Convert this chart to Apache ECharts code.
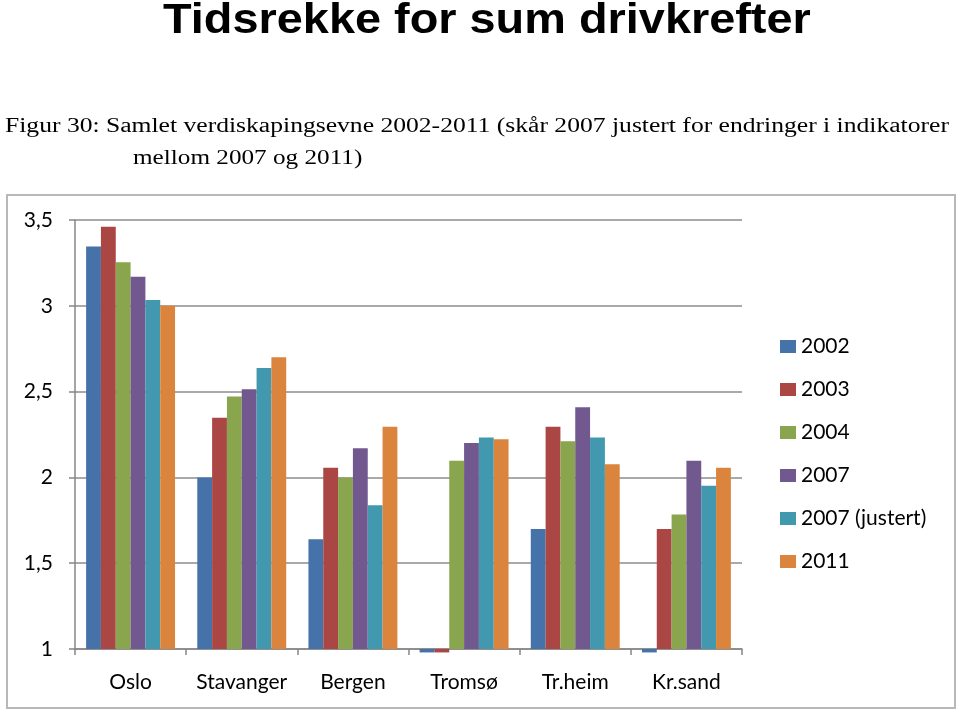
<!DOCTYPE html>
<html>
<head>
<meta charset="utf-8">
<script src="https://cdn.jsdelivr.net/npm/echarts@6/dist/echarts.min.js"></script>
<style>html,body{margin:0;padding:0;background:#fff;}#c{width:960px;height:714px;}</style>
</head>
<body>
<div id="c"></div>
<script>
const categories = ['Oslo', 'Stavanger', 'Bergen', 'Tromsø', 'Tr.heim', 'Kr.sand'];
const seriesNames = ['2002', '2003', '2004', '2007', '2007 (justert)', '2011'];
const v2002 = [3.345, 2.0, 1.64, 0.98, 1.70, 0.98];
const v2003 = [3.46, 2.347, 2.056, 0.98, 2.295, 1.70];
const v2004 = [3.254, 2.471, 2.0, 2.097, 2.211, 1.784];
const v2007 = [3.17, 2.514, 2.17, 2.201, 2.409, 2.097];
const v2007j = [3.034, 2.638, 1.837, 2.233, 2.233, 1.951];
const v2011 = [3.0, 2.70, 2.295, 2.223, 2.077, 2.056];
const yTicks = [1, 1.5, 2, 2.5, 3, 3.5];
const titleText = 'Tidsrekke for sum drivkrefter';
const subLine1 = 'Figur 30: Samlet verdiskapingsevne 2002-2011 (skår 2007 justert for endringer i indikatorer';
const subLine2 = 'mellom 2007 og 2011)';

const colors = ['#4572A8', '#AA4643', '#89A54E', '#71588F', '#4198AF', '#DB843D'];
const allValues = [v2002, v2003, v2004, v2007, v2007j, v2011];

const chart = echarts.init(document.getElementById('c'), null, {renderer: 'canvas'});
const font = 'Lato, "Open Sans", sans-serif';
chart.setOption({
  animation: false,
  color: colors,
  graphic: [
    {type: 'rect', shape: {x: 7, y: 195, width: 948, height: 513}, style: {fill: 'none', stroke: '#b8b8b8', lineWidth: 2}, silent: true, z: -1},
    {type: 'text', x: 163, y: 21, scaleX: 1.09, style: {text: titleText, font: 'bold 43px "Liberation Sans", Arial, sans-serif', fill: '#000', verticalAlign: 'middle'}},
    {type: 'text', x: 5, y: 127, scaleX: 1.28, style: {text: subLine1, font: '20px "Liberation Serif", "Times New Roman", serif', fill: '#000', verticalAlign: 'middle'}},
    {type: 'text', x: 133, y: 159, scaleX: 1.26, style: {text: subLine2, font: '20px "Liberation Serif", "Times New Roman", serif', fill: '#000', verticalAlign: 'middle'}}
  ],
  legend: {
    orient: 'vertical',
    left: 775,
    top: 331,
    itemWidth: 16,
    itemHeight: 13,
    itemGap: 22,
    icon: 'rect',
    textStyle: {fontFamily: font, fontSize: 21, color: '#000'},
    data: seriesNames
  },
  grid: {left: 75, right: 218, top: 220, bottom: 65, containLabel: false},
  xAxis: {
    type: 'category',
    data: categories,
    axisLine: {show: true, lineStyle: {color: '#878787', width: 1.5}},
    axisTick: {show: true, alignWithLabel: false, length: 6, lineStyle: {color: '#878787', width: 1.5}},
    axisLabel: {fontFamily: font, fontSize: 21, color: '#000', margin: 23, interval: 0}
  },
  yAxis: {
    type: 'value',
    min: 1,
    max: 3.5,
    interval: 0.5,
    startValue: 1,
    axisLine: {show: true, lineStyle: {color: '#878787', width: 1.5}},
    axisTick: {show: true, length: 6, lineStyle: {color: '#878787', width: 1.5}},
    splitLine: {show: true, lineStyle: {color: '#8c8c8c', width: 1.5}},
    axisLabel: {
      fontFamily: font, fontSize: 21, color: '#000', margin: 22,
      formatter: function (v) { return String(v).replace('.', ','); }
    }
  },
  series: seriesNames.map(function (n, i) {
    return {
      name: n,
      type: 'bar',
      data: allValues[i],
      barGap: '0%',
      barCategoryGap: '20%',
      clip: false
    };
  })
});
</script>
</body>
</html>
